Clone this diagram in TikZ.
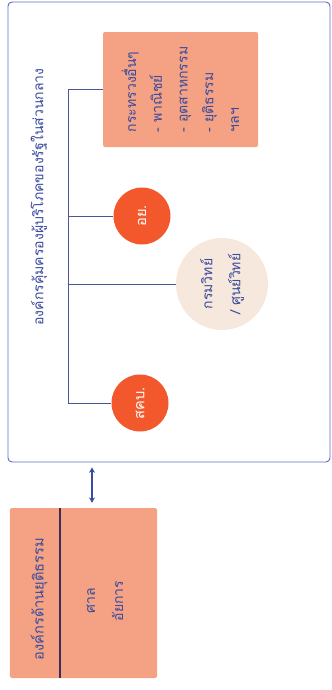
\documentclass[tikz,border=0pt]{standalone}
\usepackage{fontspec}
\newfontfamily\thaifont[Script=Thai]{Loma}
\usetikzlibrary{arrows.meta, positioning, calc}
\definecolor{navy}{HTML}{3B4B9E}
\definecolor{frameblue}{HTML}{5A6CC0}
\definecolor{salmon}{HTML}{F4A283}
\definecolor{redorange}{HTML}{F2582B}
\definecolor{beige}{HTML}{F6E8DC}
\definecolor{darkline}{HTML}{3A2E55}

\begin{document}
\begin{tikzpicture}[x=0.3mm, y=-0.3mm, font=\thaifont,
      outer/.style={rectangle, draw=frameblue, line width=0.8pt, rounded corners=1.2mm, minimum width=96.6mm, minimum height=138mm},
      panel/.style={rectangle, fill=salmon, rotate=90, rounded corners=0.6mm},
      agency/.style={circle, fill=redorange, text=white, minimum size=17.1mm, inner sep=0pt, rotate=90, font=\thaifont\fontsize{12.5}{14}\selectfont},
      heading/.style={text=navy, rotate=90},
      branch/.style={draw=frameblue!80!black, line width=0.5pt}]
      \useasboundingbox (0,0) rectangle (331,690);

      % central agencies
      \node[outer] (central) at (169,232) {};
      \node[heading, font=\thaifont\fontsize{12}{15}\selectfont] (centraltitle) at (39,197) {องค์กรคุ้มครองผู้บริโภคของรัฐในส่วนกลาง};

      \node[panel, minimum width=34.5mm, minimum height=46.5mm, align=left, text=navy, font=\thaifont\fontsize{12}{22}\selectfont] (others) at (180.5,89.5) {กระทรวงอื่นๆ\\- พาณิชย์\\- อุตสาหกรรม\\- ยุติธรรม\\ฯลฯ};
      \node[agency] (ay) at (142,216) {อย.};
      \node[circle, fill=beige, text=navy, minimum size=27.6mm, inner sep=0pt, rotate=90, align=center, font=\thaifont\fontsize{12}{24}\selectfont] (krom) at (222,284) {กรมวิทย์\\/ ศูนย์วิทย์};
      \node[agency] (skb) at (140,403) {สคบ.};

      \coordinate (trunk) at (68,0);
      \draw[branch] (others.north) -- (others.north -| trunk) -- (skb.north -| trunk) -- (skb.north);
      \draw[branch] (ay.north -| trunk) -- (ay.north);
      \draw[branch] (krom.north -| trunk) -- (krom.north);

      % justice organisations
      \node[panel, minimum width=51mm, minimum height=44.1mm] (justice) at (83.5,593) {};
      \coordinate (divider) at (60,0);
      \draw[darkline, line width=1.2pt] (justice.east -| divider) -- (justice.west -| divider);
      \node[heading, font=\thaifont\fontsize{12.5}{14}\selectfont] (justicetitle) at (39,599) {องค์กรด้านยุติธรรม};
      \node[heading, align=center, font=\thaifont\fontsize{12}{24}\selectfont] (courts) at (105,601) {ศาล\\อัยการ};

      \coordinate (link) at (92,0);
      \draw[{Stealth[length=1.6mm, width=1.8mm]}-{Stealth[length=1.6mm, width=1.8mm]}, navy, line width=1pt, shorten <=1.5mm, shorten >=1.5mm] (central.south -| link) -- (justice.east -| link);
    \end{tikzpicture}
\end{document}
